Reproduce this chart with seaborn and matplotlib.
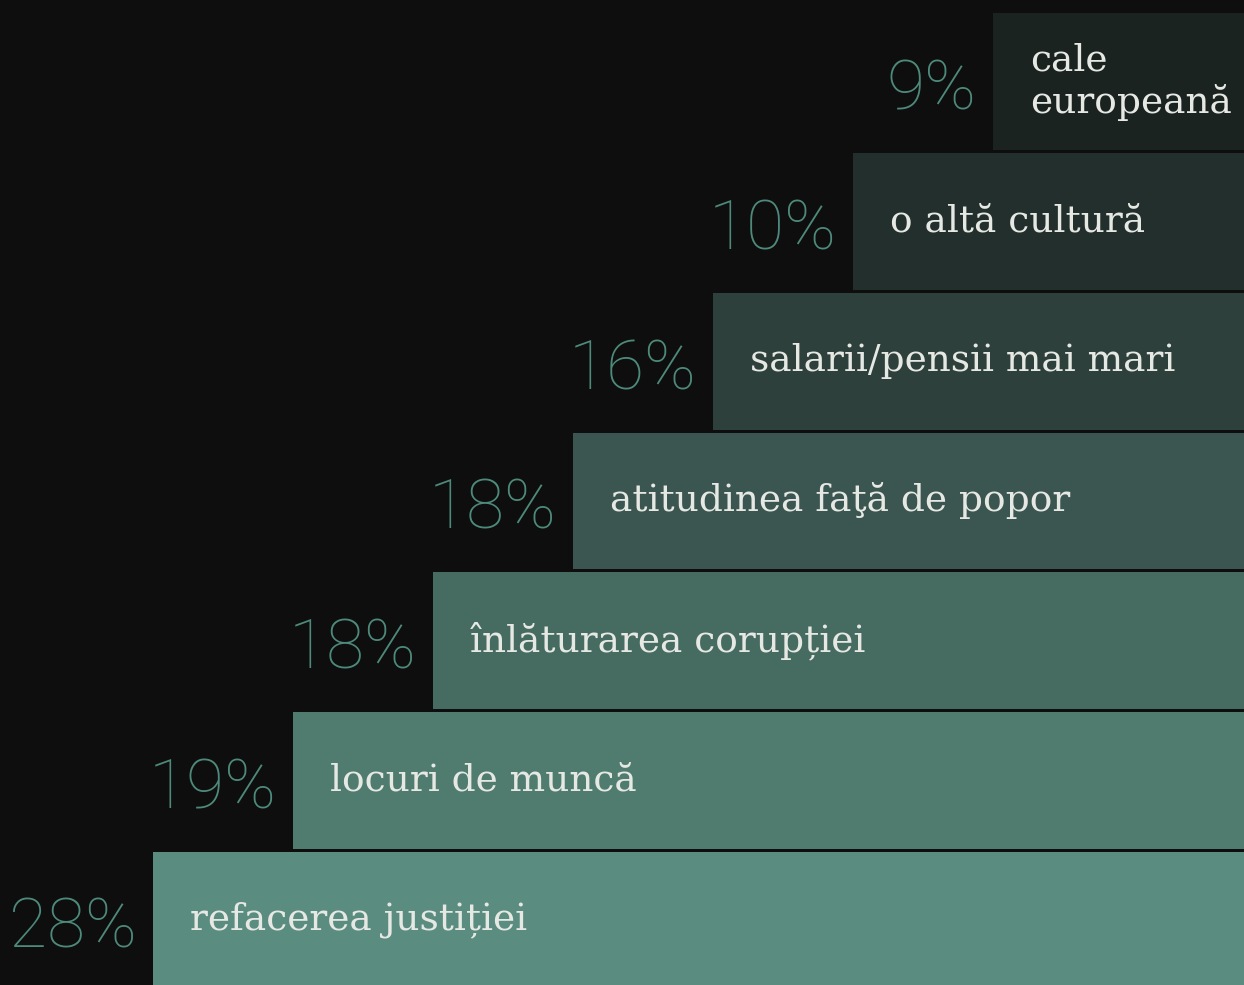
import matplotlib
matplotlib.use("Agg")
import matplotlib.pyplot as plt
import seaborn as sns

# data, top row first
labels = ["cale\neuropeană", "o altă cultură", "salarii/pensii mai mari",
          "atitudinea faţă de popor", "înlăturarea corupției",
          "locuri de muncă", "refacerea justiției"]
values = [9, 10, 16, 18, 18, 19, 28]
colors = ["#1b2321", "#222f2c", "#2e403c", "#3b5650", "#466b61",
          "#507c70", "#5b8c80"]

bg = "#0e0e0e"
sns.set_theme(style="white", rc={"axes.facecolor": bg, "figure.facecolor": bg})

# staircase: each row one step longer than the one above, measured from the right edge
step0 = 1.79
lengths = [step0 + i for i in range(len(labels))]

fig = plt.figure(figsize=(12.44, 9.85), dpi=100)
ax = fig.add_axes([0, 0, 1, 1])

sns.barplot(x=lengths, y=labels, hue=labels, palette=colors, legend=False,
            orient="h", width=0.98, saturation=1, linewidth=0, ax=ax)

ax.set_xlim(1244 / 140, 0)
ax.set_ylim(6.465, -0.586)
ax.axis("off")

for i, (lab, val, L) in enumerate(zip(labels, values, lengths)):
    ax.text(L + 0.12, i + 0.2, f"{val}%", ha="right", va="baseline",
            fontsize=50, color="#4e8a7b", family="Roboto", fontweight="light")
    ax.text(L - 0.265, i, lab, ha="left", va="center", fontsize=27,
            color="#e6e8e4", family="DejaVu Serif", linespacing=1.2)

fig.savefig("out.png", dpi=100, facecolor=bg)
